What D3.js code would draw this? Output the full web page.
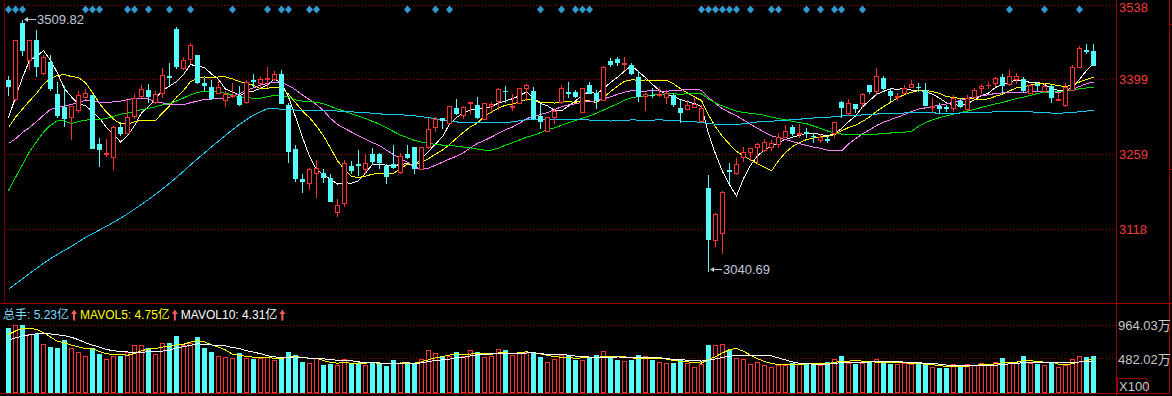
<!DOCTYPE html>
<html>
<head>
<meta charset="utf-8">
<script src="https://cdn.jsdelivr.net/npm/d3@7"></script>
<style>
  body { margin: 0; background: #000; overflow: hidden; }
  text { font-family: "Liberation Sans", Arial, "Noto Sans CJK SC", sans-serif; font-size: 13px; }
</style>
</head>
<body>
<script>
// daily candles, one entry per trading day
var open = [3397.7,3362.1,3504.9,3435.1,3472.5,3410.8,3431.4,3371.5,3347.2,3328.5,
  3341.6,3365.9,3369.6,3277.9,3259.2,3253.6,3309.8,3298.5,3330.3,3367.7,
  3379.0,3356.5,3373.4,3405.2,3493.1,3420.1,3437.0,3444.5,3392.1,3384.6,
  3373.4,3360.3,3367.7,3367.7,3356.5,3397.7,3392.1,3399.6,3399.6,3408.9,
  3350.9,3268.6,3212.5,3205.0,3223.7,3223.7,3214.3,3150.7,3167.6,3236.8,
  3240.5,3231.2,3259.2,3259.2,3236.8,3240.5,3225.6,3259.2,3272.3,3231.2,
  3272.3,3309.8,3326.6,3317.2,3345.3,3332.2,3354.7,3350.9,3324.7,3349.0,
  3358.4,3377.1,3347.2,3354.7,3382.7,3377.1,3330.3,3302.3,3328.5,3356.5,
  3375.2,3375.2,3337.8,3388.3,3373.4,3360.3,3433.2,3437.0,3427.6,3425.7,
  3403.3,3367.7,3369.6,3369.6,3365.9,3369.6,3345.3,3343.4,3347.2,3321.0,
  3195.6,3098.3,3111.4,3229.3,3223.7,3253.6,3263.0,3272.3,3266.7,3272.3,
  3277.9,3291.0,3309.8,3296.7,3299.5,3293.8,3285.4,3286.4,3298.5,3356.5,
  3335.9,3352.8,3354.7,3388.3,3377.1,3401.4,3377.1,3366.8,3373.4,3384.6,
  3384.6,3379.0,3347.2,3349.0,3347.2,3345.3,3358.4,3343.4,3365.9,3382.7,
  3387.4,3392.1,3403.3,3390.2,3399.6,3399.6,3373.4,3389.3,3377.1,3386.5,
  3361.2,3350.9,3379.0,3422.0,3452.9,3451.9];
var high = [3405.2,3472.5,3509.82,3472.5,3491.2,3444.5,3444.5,3393.9,3386.5,3349.0,
  3377.1,3380.8,3369.6,3289.2,3287.3,3311.6,3319.1,3360.3,3371.5,3388.3,
  3390.2,3377.1,3420.1,3429.5,3496.8,3440.7,3466.9,3444.5,3401.4,3397.7,
  3397.7,3377.1,3392.1,3386.5,3397.7,3408.9,3403.3,3422.0,3414.5,3416.4,
  3354.7,3276.1,3221.8,3233.0,3248.0,3231.2,3221.8,3175.0,3248.0,3246.1,
  3266.7,3259.2,3270.5,3261.1,3240.5,3276.1,3261.1,3276.1,3272.3,3272.3,
  3326.6,3328.5,3326.6,3349.0,3362.1,3349.0,3356.5,3365.9,3354.7,3356.5,
  3382.7,3386.5,3371.5,3382.7,3390.2,3384.6,3352.8,3328.5,3345.3,3388.3,
  3393.9,3379.0,3382.7,3393.9,3379.0,3423.9,3438.8,3440.7,3440.7,3429.5,
  3414.5,3373.4,3382.7,3384.6,3379.0,3373.4,3362.1,3360.3,3365.9,3350.9,
  3219.9,3148.9,3190.0,3242.4,3251.8,3272.3,3270.5,3279.8,3287.3,3285.4,
  3298.5,3313.5,3313.5,3315.4,3307.9,3298.5,3296.7,3292.9,3319.1,3358.4,
  3362.1,3352.8,3373.4,3388.3,3420.1,3405.2,3382.7,3373.4,3388.3,3397.7,
  3392.1,3392.1,3364.0,3354.7,3350.9,3369.6,3364.0,3369.6,3382.7,3390.2,
  3393.9,3403.3,3408.9,3416.4,3410.8,3403.3,3390.2,3393.9,3392.1,3388.3,
  3373.4,3392.1,3425.7,3461.3,3465.0,3465.0];
var low = [3369.6,3360.3,3444.5,3418.3,3405.2,3408.9,3379.0,3328.5,3311.6,3287.3,
  3337.8,3365.9,3270.5,3236.8,3255.5,3231.2,3294.8,3298.5,3326.6,3365.9,
  3356.5,3354.7,3365.9,3388.3,3420.1,3418.3,3429.5,3392.1,3379.0,3362.1,
  3373.4,3349.0,3365.9,3350.9,3354.7,3384.6,3384.6,3384.6,3397.7,3354.7,
  3244.3,3208.7,3188.1,3193.8,3178.8,3206.9,3171.3,3143.2,3161.9,3223.7,
  3219.9,3223.7,3240.5,3233.0,3205.0,3233.0,3223.7,3251.8,3223.7,3231.2,
  3270.5,3302.3,3307.9,3317.2,3334.1,3326.6,3335.9,3326.6,3324.7,3339.7,
  3343.4,3356.5,3341.6,3354.7,3360.3,3324.7,3307.9,3302.3,3317.2,3354.7,
  3365.9,3365.9,3337.8,3373.4,3345.3,3360.3,3423.9,3425.7,3416.4,3408.9,
  3358.4,3341.6,3365.9,3367.7,3354.7,3349.0,3319.1,3343.4,3347.2,3321.0,
  3040.69,3087.1,3074.0,3205.0,3221.8,3246.1,3248.0,3242.4,3264.8,3266.7,
  3272.3,3291.0,3294.8,3291.0,3291.0,3281.7,3281.7,3281.7,3291.0,3328.5,
  3332.2,3337.8,3347.2,3373.4,3373.4,3380.8,3358.4,3360.3,3373.4,3384.6,
  3377.1,3350.9,3337.8,3337.8,3339.7,3339.7,3347.2,3341.6,3365.9,3373.4,
  3382.7,3386.5,3373.4,3388.3,3392.1,3375.2,3373.4,3379.0,3375.2,3356.5,
  3360.3,3349.0,3379.0,3422.0,3448.2,3425.7];
var close = [3386.5,3472.5,3453.8,3472.5,3423.9,3440.7,3382.7,3332.2,3326.6,3349.0,
  3369.6,3373.4,3270.5,3268.6,3261.1,3309.8,3298.5,3328.5,3364.0,3380.8,
  3367.7,3371.5,3407.0,3403.3,3423.9,3435.1,3463.2,3393.9,3388.3,3364.0,
  3384.6,3371.5,3369.6,3352.8,3393.9,3395.8,3399.6,3401.4,3408.9,3354.7,
  3264.8,3214.3,3208.7,3231.2,3233.0,3216.2,3171.3,3163.8,3242.4,3229.3,
  3239.6,3242.4,3246.1,3244.3,3218.1,3234.9,3255.5,3253.6,3233.0,3272.3,
  3306.0,3324.7,3322.8,3349.0,3335.9,3347.2,3356.5,3328.5,3354.7,3352.8,
  3380.8,3376.2,3349.0,3382.7,3388.3,3326.6,3321.0,3328.5,3339.7,3382.7,
  3374.3,3367.7,3382.7,3373.4,3360.3,3422.0,3427.6,3431.4,3429.5,3410.8,
  3367.7,3371.5,3368.7,3371.5,3373.4,3352.8,3337.8,3350.9,3352.8,3345.3,
  3100.2,3147.0,3188.1,3227.4,3240.5,3263.0,3270.5,3277.9,3281.7,3279.8,
  3291.0,3302.3,3298.5,3298.5,3298.5,3292.9,3291.0,3285.4,3319.1,3347.2,
  3354.7,3345.3,3371.5,3377.1,3405.2,3382.7,3369.6,3367.7,3382.7,3390.2,
  3383.7,3350.9,3349.0,3345.3,3346.2,3364.0,3349.0,3364.0,3379.0,3386.5,
  3388.3,3401.4,3388.3,3405.2,3405.2,3379.0,3388.3,3388.3,3386.5,3365.9,
  3362.1,3384.6,3422.0,3457.6,3451.9,3425.7];
// 总手, in 亿
var volume = [9.17,9.64,9.64,8.32,8.32,6.90,6.56,6.42,7.51,6.42,
  5.86,5.25,6.34,5.57,4.82,5.25,5.25,5.86,6.81,6.81,
  6.42,5.49,7.05,7.05,8.08,6.81,7.13,7.94,6.42,5.77,
  5.25,5.15,4.92,5.63,4.92,4.82,4.92,5.10,4.68,4.92,
  5.77,5.39,4.44,4.21,4.92,3.97,4.07,3.97,4.82,4.21,
  4.21,3.97,4.44,4.07,3.87,4.68,4.21,4.21,4.21,4.78,
  6.10,5.63,5.15,5.25,5.81,5.25,6.10,5.81,5.06,5.25,
  6.20,6.10,5.39,5.63,5.86,5.63,5.15,4.39,4.78,5.39,
  5.39,4.68,4.68,5.06,5.39,5.95,5.06,4.68,4.54,4.68,
  5.39,5.25,4.68,4.44,4.30,4.30,4.78,4.30,3.73,4.11,
  6.81,6.81,6.95,6.10,4.92,4.78,4.11,4.44,3.97,3.64,
  3.97,3.97,4.30,4.11,4.21,4.21,3.97,4.44,4.78,5.25,
  4.21,4.11,4.30,4.44,4.78,4.30,4.11,4.11,4.21,4.11,
  4.11,3.97,3.73,3.50,3.50,4.11,3.83,4.11,3.97,4.21,
  3.97,4.39,4.92,4.21,4.30,5.25,4.30,4.11,3.97,4.30,
  3.73,3.97,4.78,5.25,5.15,5.23];

// closes / volumes before the first visible day, only used to seed the averages
// (estimated so the MA lines start where the chart shows them)
var priorClose = [2870,2869,2869,2862,2858,2867,2850,2877,2879,2893,2866,2856,2848,2855,2855,2848,2837,2838,2842,
  2811,2802,2784,2788,2765,2736,2744,2721,2717,2704,2717,2736,2736,2748,2863,2896,3000,3087,3336,
  3489,3258,3301,3217,3284,3201,3202,3169,3261,3268,3285,3302,3280,3300,3322,3286,3266,3279,
  3272,3310,3387];
var priorVolume = [6.5,6.8,7.0,6.6,6.6,7.2,7.6,8.5,9.0];

var signalDays = [0,1,2,11,12,13,17,18,20,23,26,32,37,39,40,43,44,57,61,63,76,79,81,82,83,
  99,100,101,102,103,104,106,109,110,114,116,118,119,122,143,148,153];

var priceTicks = [3538, 3399, 3259, 3118];
var volTicks = [9.6403, 4.8202];
var maDays = [5, 10, 20, 30, 60];
var maColors = ["#ffffff", "#ffff00", "#ff80ff", "#00e000", "#1ec8f0"];
var volMaDays = [5, 10];
var volMaColors = ["#ffff00", "#ffffff"];

var RED = "#ff3232", CYAN = "#54fcfc", FRAME = "#a00000";

function movingAvg(prior, vals, k) {
  var all = prior.concat(vals);
  return vals.map(function(d, i) {
    var end = prior.length + i + 1;
    return d3.mean(all.slice(end - k, end));
  });
}

var n = close.length;
var x = d3.scaleLinear().domain([0, n - 1]).range([8.5, 8.5 + 7 * (n - 1)]);
var y = d3.scaleLinear().domain([3118, 3538]).range([229.5, 5]);
var yv = d3.scaleLinear().domain([0, 9.6403]).range([393, 325]);
var up = function(i) { return close[i] >= open[i]; };

var svg = d3.select("body")
  .append("svg")
  .attr("width", 1172)
  .attr("height", 396)
  .style("display", "block")
  .style("background", "#000");

// frame
svg.append("line").attr("x1", 0).attr("x2", 1172).attr("y1", 303.5).attr("y2", 303.5).attr("stroke", FRAME);
svg.append("line").attr("x1", 0).attr("x2", 1169).attr("y1", 393.5).attr("y2", 393.5).attr("stroke", FRAME);
svg.append("line").attr("x1", 1116.5).attr("x2", 1116.5).attr("y1", 0).attr("y2", 396).attr("stroke", FRAME);
svg.append("line").attr("x1", 1169.5).attr("x2", 1169.5).attr("y1", 0).attr("y2", 394).attr("stroke", FRAME);
svg.append("line").attr("x1", 4.5).attr("x2", 4.5).attr("y1", 0).attr("y2", 303).attr("stroke", "#700000");
[24.5, 169.5].forEach(function(t) {
  svg.append("line").attr("x1", 1169).attr("x2", 1172).attr("y1", t).attr("y2", t).attr("stroke", FRAME);
});

// price grid + labels
svg.selectAll(".pgrid").data(priceTicks).enter()
  .append("line")
  .attr("x1", 5).attr("x2", 1116)
  .attr("y1", function(d) { return Math.floor(y(d)) + 0.5; })
  .attr("y2", function(d) { return Math.floor(y(d)) + 0.5; })
  .attr("stroke", "#900000")
  .attr("stroke-dasharray", "1,2");
svg.selectAll(".plabel").data(priceTicks).enter()
  .append("text")
  .attr("x", 1119)
  .attr("y", function(d) { return Math.max(y(d), 7.5); })   // keep the top label inside the window
  .attr("dy", "0.36em")
  .attr("fill", "#f03c3c")
  .text(function(d) { return d; });

// volume grid + labels
svg.selectAll(".vgrid").data(volTicks).enter()
  .append("line")
  .attr("x1", 5).attr("x2", 1116)
  .attr("y1", function(d) { return Math.floor(yv(d)) + 0.5; })
  .attr("y2", function(d) { return Math.floor(yv(d)) + 0.5; })
  .attr("stroke", "#900000")
  .attr("stroke-dasharray", "1,2");
svg.selectAll(".vlabel").data(volTicks).enter()
  .append("text")
  .attr("x", 1118)
  .attr("y", function(d) { return yv(d); })
  .attr("dy", "0.36em")
  .attr("fill", "#c8c8c8")
  .text(function(d) { return d3.format(".2f")(d * 100) + "万"; });
svg.append("rect").attr("x", 1117.5).attr("y", 378.5).attr("width", 29).attr("height", 15)
  .attr("fill", "none").attr("stroke", FRAME);
svg.append("text").attr("x", 1119).attr("y", 386).attr("dy", "0.36em").attr("fill", "#c8c8c8").text("X100");

// signal diamonds along the top
svg.selectAll(".sig").data(signalDays).enter()
  .append("path")
  .attr("d", function(i) {
    var cx = x(i), cy = 9.5;
    return "M" + cx + "," + (cy - 4) + "L" + (cx + 3.5) + "," + cy + "L" + cx + "," + (cy + 4) + "L" + (cx - 3.5) + "," + cy + "Z";
  })
  .attr("fill", "#2f9bd3");

// moving averages (drawn under the candles)
var line = d3.line().x(function(d, i) { return x(i); }).y(function(d) { return y(d); });
maDays.forEach(function(k, j) {
  svg.append("path")
    .datum(movingAvg(priorClose, close, k))
    .attr("d", line)
    .attr("fill", "none")
    .attr("stroke", maColors[j])
    .attr("stroke-width", 1)
    .attr("shape-rendering", "crispEdges");
});

// candles
var days = d3.range(n);
var cg = svg.append("g");
cg.selectAll(".wick").data(days).enter()
  .append("line")
  .attr("x1", function(i) { return x(i); })
  .attr("x2", function(i) { return x(i); })
  .attr("y1", function(i) { return Math.round(y(high[i])); })
  .attr("y2", function(i) { return Math.round(y(low[i])) + 1; })
  .attr("stroke", function(i) { return up(i) ? RED : CYAN; });
cg.selectAll(".body").data(days).enter()
  .append("rect")
  .attr("x", function(i) { return up(i) ? x(i) - 2 : x(i) - 2.5; })
  .attr("width", function(i) { return up(i) ? 4 : 5; })
  .attr("y", function(i) {
    var t = Math.round(y(Math.max(open[i], close[i])));
    return up(i) ? t + 0.5 : t;
  })
  .attr("height", function(i) {
    var t = Math.round(y(Math.max(open[i], close[i])));
    var b = Math.round(y(Math.min(open[i], close[i])));
    return up(i) ? Math.max(0.01, b - t) : Math.max(1, b - t + 1);
  })
  .attr("fill", function(i) { return up(i) ? "#000" : CYAN; })
  .attr("stroke", function(i) { return up(i) ? RED : "none"; });

// high / low markers
function marker(i, v, ty) {
  var x0 = x(i) + 1.5;
  svg.append("path")
    .attr("d", "M" + x0 + "," + ty + "L" + (x0 + 4) + "," + (ty - 2.5) + "L" + (x0 + 4) + "," + (ty + 2.5) + "Z")
    .attr("fill", "#c0c8d8");
  svg.append("line").attr("x1", x0 + 3).attr("x2", x0 + 12).attr("y1", ty).attr("y2", ty)
    .attr("stroke", "#c0c8d8");
  svg.append("text").attr("x", x0 + 13).attr("y", ty).attr("dy", "0.36em")
    .attr("fill", "#c0c8d8").text(d3.format(".2f")(v));
}
var hi = d3.maxIndex(high), lo = d3.minIndex(low);
marker(hi, high[hi], 19.5);
marker(lo, low[lo], 269.5);

// volume bars
var vg = svg.append("g");
vg.selectAll(".vol").data(days).enter()
  .append("rect")
  .attr("x", function(i) { return up(i) ? x(i) - 2 : x(i) - 2.5; })
  .attr("width", function(i) { return up(i) ? 4 : 5; })
  .attr("y", function(i) { var t = Math.round(yv(volume[i])); return up(i) ? t + 0.5 : t; })
  .attr("height", function(i) { var t = Math.round(yv(volume[i])); return up(i) ? 392 - t : 393 - t; })
  .attr("fill", function(i) { return up(i) ? "#000" : CYAN; })
  .attr("stroke", function(i) { return up(i) ? RED : "none"; });

var vline = d3.line().x(function(d, i) { return x(i); }).y(function(d) { return yv(d); });
volMaDays.forEach(function(k, j) {
  svg.append("path")
    .datum(movingAvg(priorVolume, volume, k))
    .attr("d", vline)
    .attr("fill", "none")
    .attr("stroke", volMaColors[j])
    .attr("shape-rendering", "crispEdges");
});

// volume legend
var legend = [
  { t: "总手: 5.23亿", c: "#7fdfff" },
  { t: "MAVOL5: 4.75亿", c: "#ffff00" },
  { t: "MAVOL10: 4.31亿", c: "#ffffff" }
];
var lx = 3;
legend.forEach(function(d) {
  var t = svg.append("text").attr("x", lx).attr("y", 315).attr("dy", "0.36em")
    .style("font-size", "12px").attr("fill", d.c).text(d.t);
  lx += t.node().getComputedTextLength() + 5;
  svg.append("path")
    .attr("d", "M" + lx + ",309.5L" + (lx + 3) + ",314L" + (lx + 1) + ",314L" + (lx + 1) + ",320.5L" + (lx - 1) + ",320.5L" + (lx - 1) + ",314L" + (lx - 3) + ",314Z")
    .attr("fill", "#ff5a5a");
  lx += 6;
});
</script>
</body>
</html>
